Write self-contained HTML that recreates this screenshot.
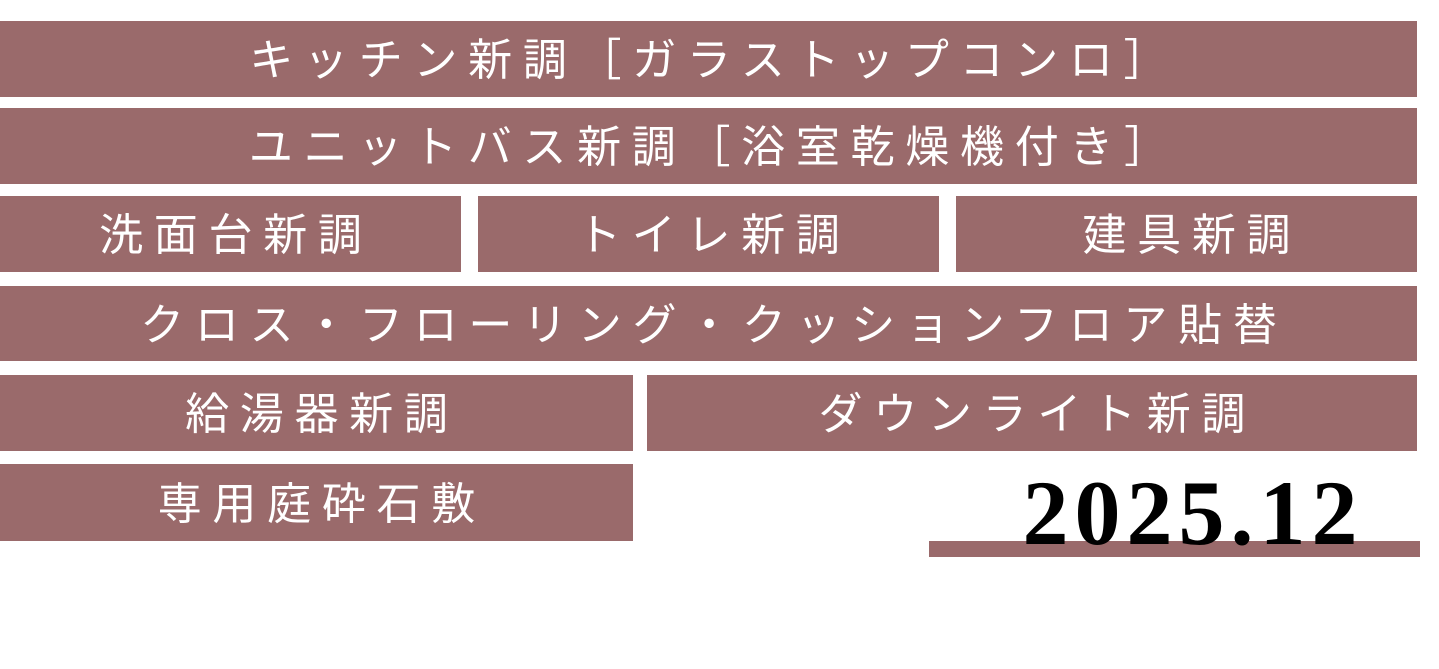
<!DOCTYPE html>
<html><head><meta charset="utf-8"><style>
body{margin:0;width:1439px;height:669px;background:#fff;position:relative;overflow:hidden;font-family:"Liberation Sans","Noto Sans CJK JP",sans-serif}
.b{position:absolute;background:#9a6a6b;color:#fff;font-size:44px;letter-spacing:10.7px;display:flex;align-items:center;justify-content:center;text-indent:10.7px;white-space:nowrap;line-height:1;box-sizing:border-box;padding-top:4px}
.d{position:absolute;left:1010px;top:467px;width:360px;text-align:center;font-family:"Liberation Serif",serif;font-weight:bold;font-size:92px;letter-spacing:6px;text-indent:6px;line-height:1;color:#000}
</style></head><body>
<div class="b" style="left:0;top:21px;width:1417px;height:76px">キッチン新調［ガラストップコンロ］</div>
<div class="b" style="left:0;top:108px;width:1417px;height:76px">ユニットバス新調［浴室乾燥機付き］</div>
<div class="b" style="left:0;top:196px;width:461px;height:76px">洗面台新調</div>
<div class="b" style="left:478px;top:196px;width:461px;height:76px">トイレ新調</div>
<div class="b" style="left:956px;top:196px;width:461px;height:76px">建具新調</div>
<div class="b" style="left:0;top:286px;width:1417px;height:75px">クロス・フローリング・クッションフロア貼替</div>
<div class="b" style="left:0;top:375px;width:633px;height:76px">給湯器新調</div>
<div class="b" style="left:647px;top:375px;width:770px;height:76px">ダウンライト新調</div>
<div class="b" style="left:0;top:464px;width:633px;height:77px">専用庭砕石敷</div>
<div class="b" style="left:929px;top:541px;width:491px;height:16px;padding:0"></div>
<div class="d">2025.12</div>
</body></html>
